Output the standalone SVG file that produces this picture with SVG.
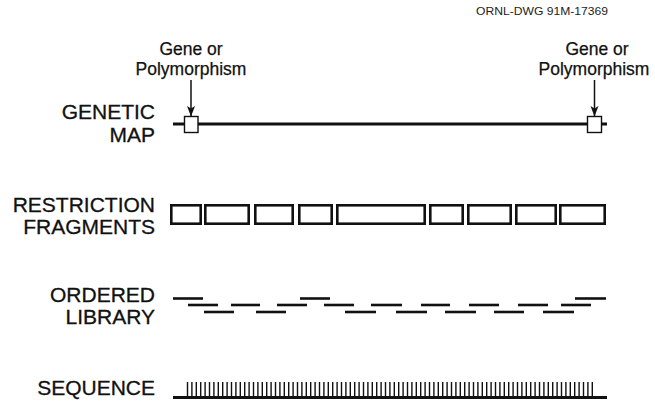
<svg xmlns="http://www.w3.org/2000/svg" width="655" height="405" viewBox="0 0 655 405">
<style>
.lbl{font-family:"Liberation Sans",Arial,sans-serif;font-size:21px;fill:#111;stroke:#111;stroke-width:0.3;text-anchor:end}
.gene{font-family:"Liberation Sans",Arial,sans-serif;font-size:17.5px;fill:#111;stroke:#111;stroke-width:0.25;text-anchor:middle}
.frag{fill:#fff;stroke:#111;stroke-width:2.6}
.clone{stroke:#111;stroke-width:2.6}
.tick{stroke:#111;stroke-width:1.4}
.sq{fill:#fff;stroke:#111;stroke-width:1.4}
.arr{stroke:#111;stroke-width:1.5;fill:none}
</style>
<defs>
<marker id="ah" markerWidth="11" markerHeight="9" refX="10" refY="4" orient="auto" markerUnits="userSpaceOnUse" viewBox="0 0 11 9"><path d="M0,0 L2.5,4 L0,8 L10.5,4 Z" fill="#111"/></marker>
</defs>
<rect width="655" height="405" fill="#fff"/>
<text x="608" y="15" font-family="'Liberation Sans',Arial,sans-serif" font-size="11" fill="#222" textLength="132" lengthAdjust="spacingAndGlyphs" text-anchor="end">ORNL-DWG 91M-17369</text>

<g id="label-genetic-map"><text class="lbl" x="155" y="119">GENETIC</text><text class="lbl" x="155" y="142">MAP</text></g>
<g id="label-restriction"><text class="lbl" x="155" y="212">RESTRICTION</text><text class="lbl" x="155" y="234">FRAGMENTS</text></g>
<g id="label-ordered"><text class="lbl" x="155" y="302">ORDERED</text><text class="lbl" x="155" y="324">LIBRARY</text></g>
<g id="label-sequence"><text class="lbl" x="155" y="395">SEQUENCE</text></g>

<g id="gene-left"><text class="gene" x="191" y="55">Gene or</text><text class="gene" x="191" y="75">Polymorphism</text></g>
<g id="gene-right"><text class="gene" x="597" y="55">Gene or</text><text class="gene" x="594" y="75">Polymorphism</text></g>

<g id="genetic-map">
<line x1="173" y1="124" x2="607" y2="124" stroke="#111" stroke-width="3"/>
<rect class="sq" x="184.5" y="116.5" width="13.5" height="16"/>
<rect class="sq" x="587.5" y="116.5" width="14" height="16"/>
</g>

<g id="connectors">
<line class="arr" x1="191" y1="80" x2="191" y2="116" marker-end="url(#ah)"/>
<line class="arr" x1="594.5" y1="80" x2="594.5" y2="116" marker-end="url(#ah)"/>
</g>

<g id="restriction-fragments">
<rect class="frag" x="171.3" y="205.3" width="29.4" height="18.4"/>
<rect class="frag" x="205.3" y="205.3" width="43.4" height="18.4"/>
<rect class="frag" x="255.3" y="205.3" width="37.4" height="18.4"/>
<rect class="frag" x="299.3" y="205.3" width="32.4" height="18.4"/>
<rect class="frag" x="337.3" y="205.3" width="87.4" height="18.4"/>
<rect class="frag" x="430.3" y="205.3" width="32.4" height="18.4"/>
<rect class="frag" x="468.3" y="205.3" width="42.4" height="18.4"/>
<rect class="frag" x="516.3" y="205.3" width="39.4" height="18.4"/>
<rect class="frag" x="560.3" y="205.3" width="44.4" height="18.4"/>
</g>

<g id="ordered-library">
<line class="clone" x1="173" y1="298.5" x2="203" y2="298.5"/>
<line class="clone" x1="300" y1="298.5" x2="330" y2="298.5"/>
<line class="clone" x1="575" y1="298.5" x2="606" y2="298.5"/>
<line class="clone" x1="188" y1="305" x2="218" y2="305"/>
<line class="clone" x1="231" y1="305" x2="260" y2="305"/>
<line class="clone" x1="277" y1="305" x2="307" y2="305"/>
<line class="clone" x1="324" y1="305" x2="354" y2="305"/>
<line class="clone" x1="371" y1="305" x2="402" y2="305"/>
<line class="clone" x1="421" y1="305" x2="450" y2="305"/>
<line class="clone" x1="469" y1="305" x2="499" y2="305"/>
<line class="clone" x1="518" y1="305" x2="548" y2="305"/>
<line class="clone" x1="561" y1="305" x2="591" y2="305"/>
<line class="clone" x1="204" y1="312" x2="234" y2="312"/>
<line class="clone" x1="256" y1="312" x2="286" y2="312"/>
<line class="clone" x1="345" y1="312" x2="376" y2="312"/>
<line class="clone" x1="396" y1="312" x2="427" y2="312"/>
<line class="clone" x1="445" y1="312" x2="476" y2="312"/>
<line class="clone" x1="494" y1="312" x2="524" y2="312"/>
<line class="clone" x1="543" y1="312" x2="574" y2="312"/>
</g>

<g id="sequence">
<line x1="173" y1="397.5" x2="607" y2="397.5" stroke="#111" stroke-width="3"/>
<path class="tick" d="M187.5,382V397M191.9,382V397M196.3,382V397M200.7,382V397M205.1,382V397M209.5,382V397M213.9,382V397M218.3,382V397M222.7,382V397M227.1,382V397M231.5,382V397M235.9,382V397M240.3,382V397M244.7,382V397M249.1,382V397M253.5,382V397M257.9,382V397M262.3,382V397M266.7,382V397M271.1,382V397M275.5,382V397M279.9,382V397M284.3,382V397M288.7,382V397M293.1,382V397M297.5,382V397M301.9,382V397M306.3,382V397M310.7,382V397M315.1,382V397M319.5,382V397M323.9,382V397M328.3,382V397M332.7,382V397M337.1,382V397M341.5,382V397M345.9,382V397M350.3,382V397M354.7,382V397M359.1,382V397M363.5,382V397M367.9,382V397M372.3,382V397M376.7,382V397M381.1,382V397M385.5,382V397M389.9,382V397M394.3,382V397M398.7,382V397M403.1,382V397M407.5,382V397M411.9,382V397M416.3,382V397M420.7,382V397M425.1,382V397M429.5,382V397M433.9,382V397M438.3,382V397M442.7,382V397M447.1,382V397M451.5,382V397M455.9,382V397M460.3,382V397M464.7,382V397M469.1,382V397M473.5,382V397M477.9,382V397M482.3,382V397M486.7,382V397M491.1,382V397M495.5,382V397M499.9,382V397M504.3,382V397M508.7,382V397M513.1,382V397M517.5,382V397M521.9,382V397M526.3,382V397M530.7,382V397M535.1,382V397M539.5,382V397M543.9,382V397M548.3,382V397M552.7,382V397M557.1,382V397M561.5,382V397M565.9,382V397M570.3,382V397M574.7,382V397M579.1,382V397M583.5,382V397M587.9,382V397M592.3,382V397"/>
</g>
</svg>
